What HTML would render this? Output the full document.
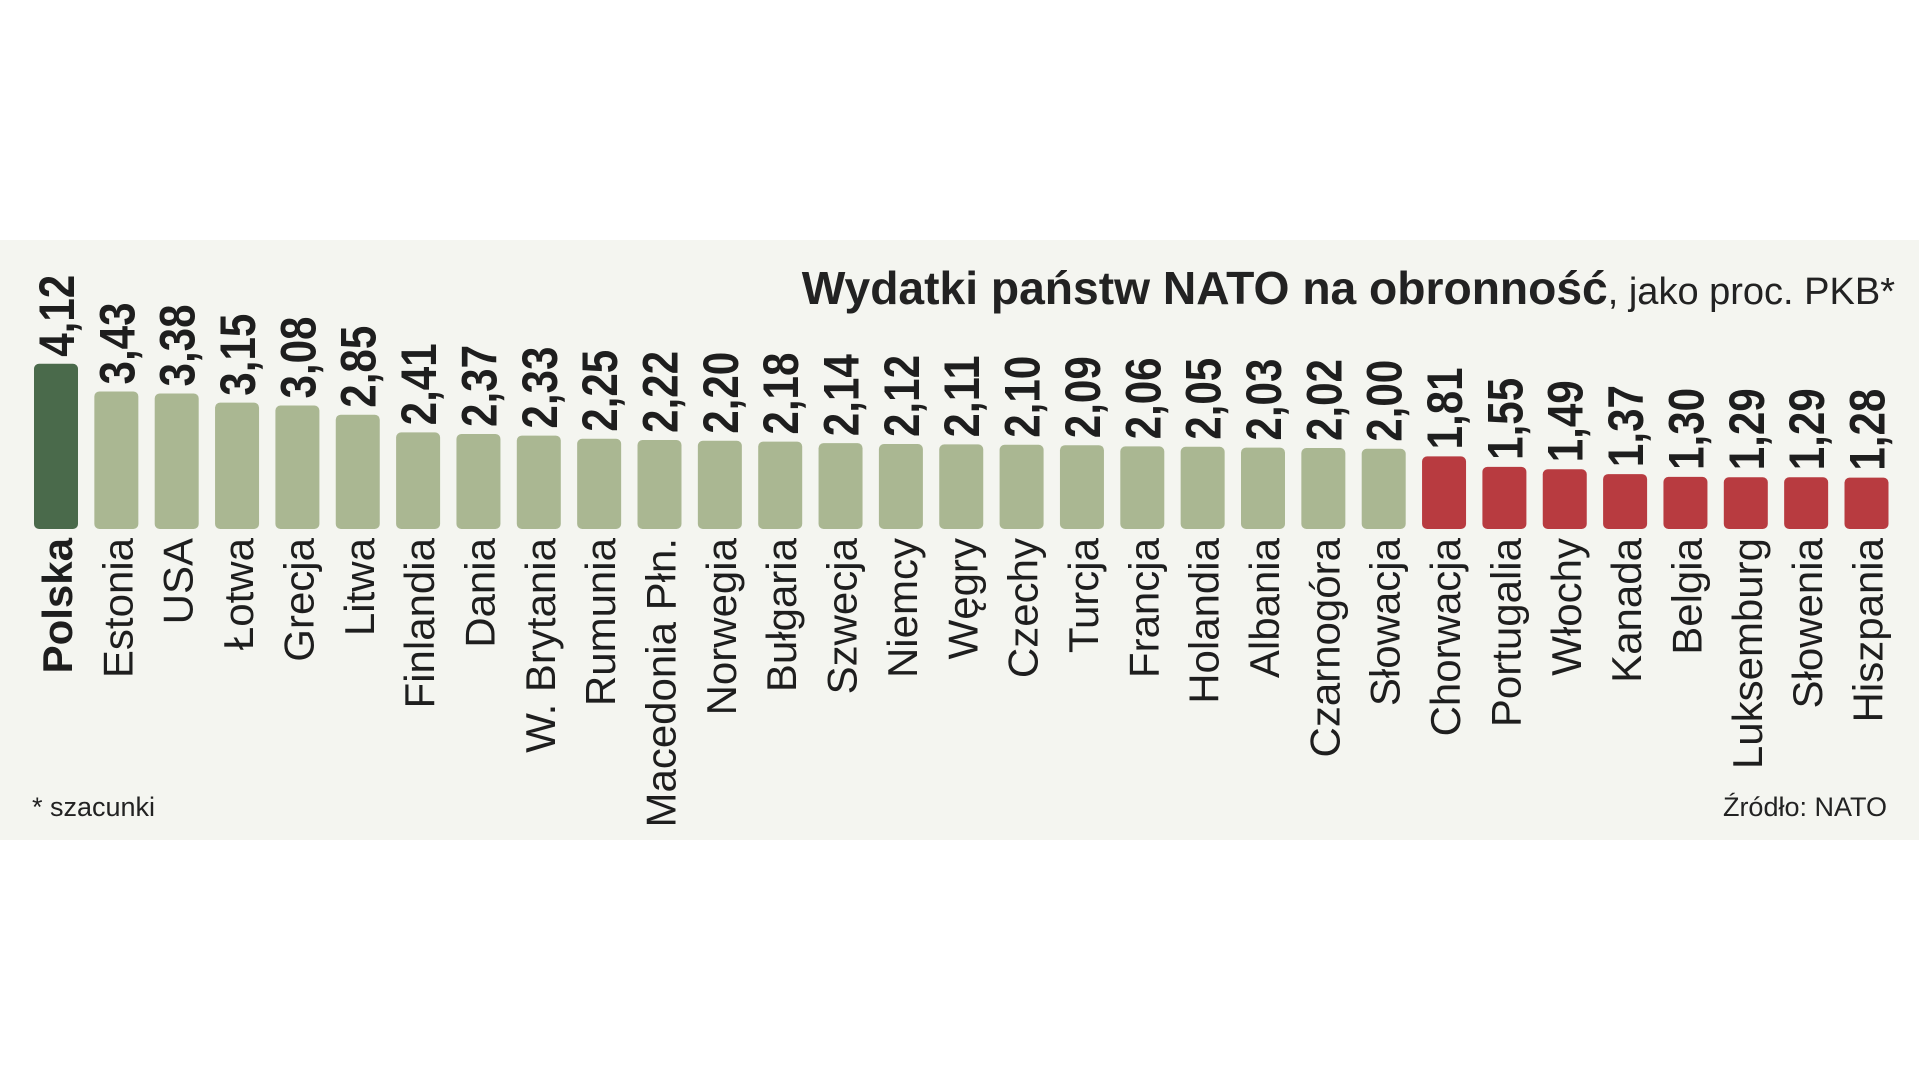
<!DOCTYPE html>
<html><head><meta charset="utf-8"><style>
html,body{margin:0;padding:0;background:#fff;}
svg{display:block;}
.n{font-family:"Liberation Sans Narrow","Liberation Sans",sans-serif;}
</style></head><body>
<svg id="chart" width="1919" height="1080" viewBox="0 0 1919 1080" xmlns="http://www.w3.org/2000/svg">
<rect x="0" y="240" width="1919" height="600" fill="#f4f5f0"/>
<text x="1895" y="304" text-anchor="end" class="n" font-size="46" fill="#222"><tspan font-weight="bold" textLength="806" lengthAdjust="spacingAndGlyphs">Wydatki państw NATO na obronność</tspan><tspan font-family="Liberation Sans, sans-serif" font-size="38">, jako proc. PKB*</tspan></text>
<text x="32" y="816" font-family="Liberation Sans, sans-serif" font-size="27" fill="#222">* szacunki</text>
<text x="1887" y="816" text-anchor="end" font-family="Liberation Sans, sans-serif" font-size="27" fill="#222">Źródło: NATO</text>
<g id="bars"></g>
</svg>
<script>
const countries=["Polska","Estonia","USA","Łotwa","Grecja","Litwa","Finlandia","Dania","W. Brytania","Rumunia","Macedonia Płn.","Norwegia","Bułgaria","Szwecja","Niemcy","Węgry","Czechy","Turcja","Francja","Holandia","Albania","Czarnogóra","Słowacja","Chorwacja","Portugalia","Włochy","Kanada","Belgia","Luksemburg","Słowenia","Hiszpania"];
const values=[4.12,3.43,3.38,3.15,3.08,2.85,2.41,2.37,2.33,2.25,2.22,2.20,2.18,2.14,2.12,2.11,2.10,2.09,2.06,2.05,2.03,2.02,2.00,1.81,1.55,1.49,1.37,1.30,1.29,1.29,1.28];
const labels=["4,12","3,43","3,38","3,15","3,08","2,85","2,41","2,37","2,33","2,25","2,22","2,20","2,18","2,14","2,12","2,11","2,10","2,09","2,06","2,05","2,03","2,02","2,00","1,81","1,55","1,49","1,37","1,30","1,29","1,29","1,28"];
const NS="http://www.w3.org/2000/svg";
const g=document.getElementById('bars');
const x0=34,pitch=60.35,bw=44,base=529,ppu=40.1;
function xs(i){return x0+i*pitch;}
function ys(v){return base-v*ppu;}
countries.forEach((c,i)=>{
  const v=values[i];
  const col=i===0?"#4a6a4b":(v<2?"#b83b40":"#aab792");
  const r=document.createElementNS(NS,'rect');
  
  
  r.setAttribute('x',xs(i));r.setAttribute('y',ys(v));
  r.setAttribute('width',bw);r.setAttribute('height',base-ys(v));
  r.setAttribute('rx',5);r.setAttribute('fill',col);
  g.appendChild(r);
  const cx=xs(i)+bw/2;
  const t=document.createElementNS(NS,'text');
  
  
  const ty=ys(v)-7, tx=cx+18;
  t.setAttribute('x',tx);t.setAttribute('y',ty);
  t.setAttribute('transform','rotate(-90 '+tx+' '+ty+')');
  t.setAttribute('class','n');t.setAttribute('font-size','50');t.setAttribute('font-weight','bold');
  t.setAttribute('textLength','82');t.setAttribute('lengthAdjust','spacingAndGlyphs');
  t.setAttribute('fill','#1e1e1e');
  t.textContent=labels[i];
  g.appendChild(t);
  const l=document.createElementNS(NS,'text');
  
  
  const ly=538, lx=cx+16;
  l.setAttribute('x',lx);l.setAttribute('y',ly);
  l.setAttribute('text-anchor','end');
  l.setAttribute('transform','rotate(-90 '+lx+' '+ly+')');
  l.setAttribute('class','n');l.setAttribute('font-size','42');
  if(i===0)l.setAttribute('font-weight','bold');
  l.setAttribute('fill','#1e1e1e');
  l.textContent=c;
  g.appendChild(l);
});
</script>
</body></html>
